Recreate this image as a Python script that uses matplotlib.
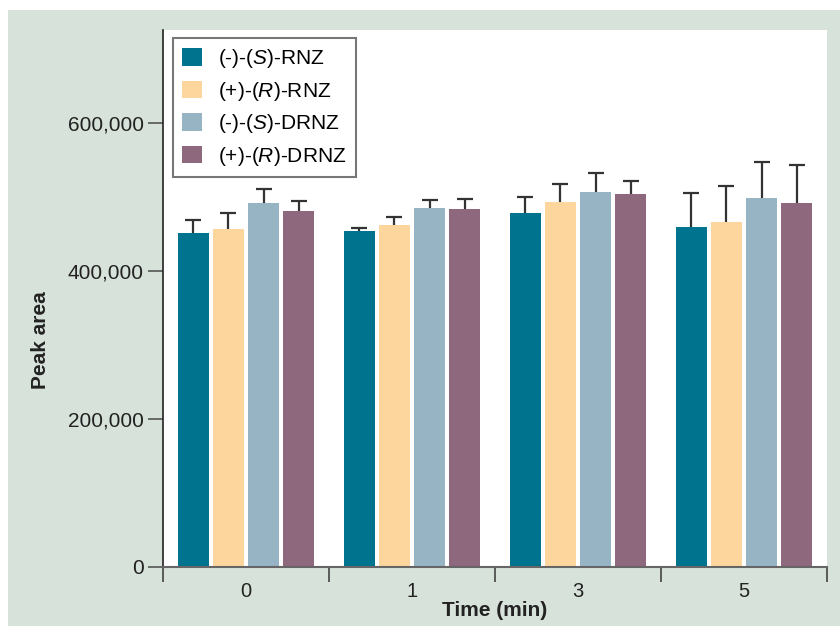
import matplotlib.pyplot as plt
import matplotlib.patches as mpatches
import numpy as np

plt.rcParams['font.family'] = ['Liberation Sans', 'DejaVu Sans']
plt.rcParams['mathtext.fontset'] = 'custom'
plt.rcParams['mathtext.it'] = 'Liberation Sans:italic'
plt.rcParams['mathtext.rm'] = 'Liberation Sans'

times = ['0', '1', '3', '5']
series = ['(-)-($\\mathit{S}$)-RNZ', '(+)-($\\mathit{R}$)-RNZ',
          '(-)-($\\mathit{S}$)-DRNZ', '(+)-($\\mathit{R}$)-DRNZ']
colors = ['#00738f', '#fdd69e', '#97b4c5', '#8e687c']

s_rnz = [451000, 454000, 478000, 459000]
r_rnz = [457000, 462000, 493000, 467000]
s_drnz = [492000, 485000, 507000, 499000]
r_drnz = [481000, 484000, 504000, 492000]
values = [s_rnz, r_rnz, s_drnz, r_drnz]

s_rnz_err = [18500, 4500, 22000, 47000]
r_rnz_err = [21000, 11000, 25000, 48000]
s_drnz_err = [19000, 11000, 26000, 48000]
r_drnz_err = [14000, 14000, 18000, 52000]
errors = [s_rnz_err, r_rnz_err, s_drnz_err, r_drnz_err]

fig = plt.figure(figsize=(8.4, 6.26), dpi=100)
fig.patch.set_facecolor('white')
fig.patches.append(mpatches.Rectangle((8/840, 0), 1 - 8/840, 616/626,
                                      transform=fig.transFigure,
                                      facecolor='#d7e2da', edgecolor='none', zorder=-10))

ax = fig.add_axes([163/840, 59/626, 664/840, 537/626])
ax.set_facecolor('white')

x = np.arange(len(times))
width = 0.187
step = 0.211
for i in range(4):
    pos = x + (i - 1.5) * step
    ax.bar(pos, values[i], width, color=colors[i], label=series[i], zorder=2)
    eb = ax.errorbar(pos, values[i], yerr=[np.zeros(4), errors[i]], fmt='none',
                     ecolor='#333333', elinewidth=1.6, capsize=5.8, capthick=1.6, zorder=3)
    eb[1][0].set_visible(False)  # no cap at the bar top

ax.set_xlim(-0.5, 3.5)
ax.set_ylim(0, 726000)
ax.set_yticks([0, 200000, 400000, 600000])
ax.set_yticklabels(['0', '200,000', '400,000', '600,000'])
ax.set_xticks(x)
ax.set_xticklabels(times)
ax.set_xticks(np.arange(-0.5, 4, 1), minor=True)
ax.tick_params(axis='x', which='major', length=0, pad=11, labelsize=14.5, colors='#222222')
ax.tick_params(axis='x', which='minor', length=11, width=1.2, color='#444444', direction='out')
ax.tick_params(axis='y', length=11, width=1.2, color='#555555', pad=3, labelsize=15,
               labelcolor='#222222')

for side in ['top', 'right']:
    ax.spines[side].set_visible(False)
ax.spines['left'].set_color('#222222')
ax.spines['left'].set_linewidth(1.2)
ax.spines['bottom'].set_color('#666666')
ax.spines['bottom'].set_linewidth(1.5)

ax.set_xlabel('Time (min)', fontsize=15, fontweight='bold', color='#222222')
ax.xaxis.set_label_coords(0.5, -0.064)
ax.set_ylabel('Peak area', fontsize=15, fontweight='bold', color='#222222')
ax.yaxis.set_label_coords(-0.17, 0.423)

leg = ax.legend(loc='upper left', bbox_to_anchor=(0.015, 0.985), borderaxespad=0,
                fontsize=15, frameon=True, fancybox=False, handlelength=0.92,
                handleheight=0.92, handletextpad=0.8, borderpad=0.45, labelspacing=0.45)
leg.get_frame().set_edgecolor('#555555')
leg.get_frame().set_linewidth(1.5)

plt.savefig('out.png', dpi=100)
